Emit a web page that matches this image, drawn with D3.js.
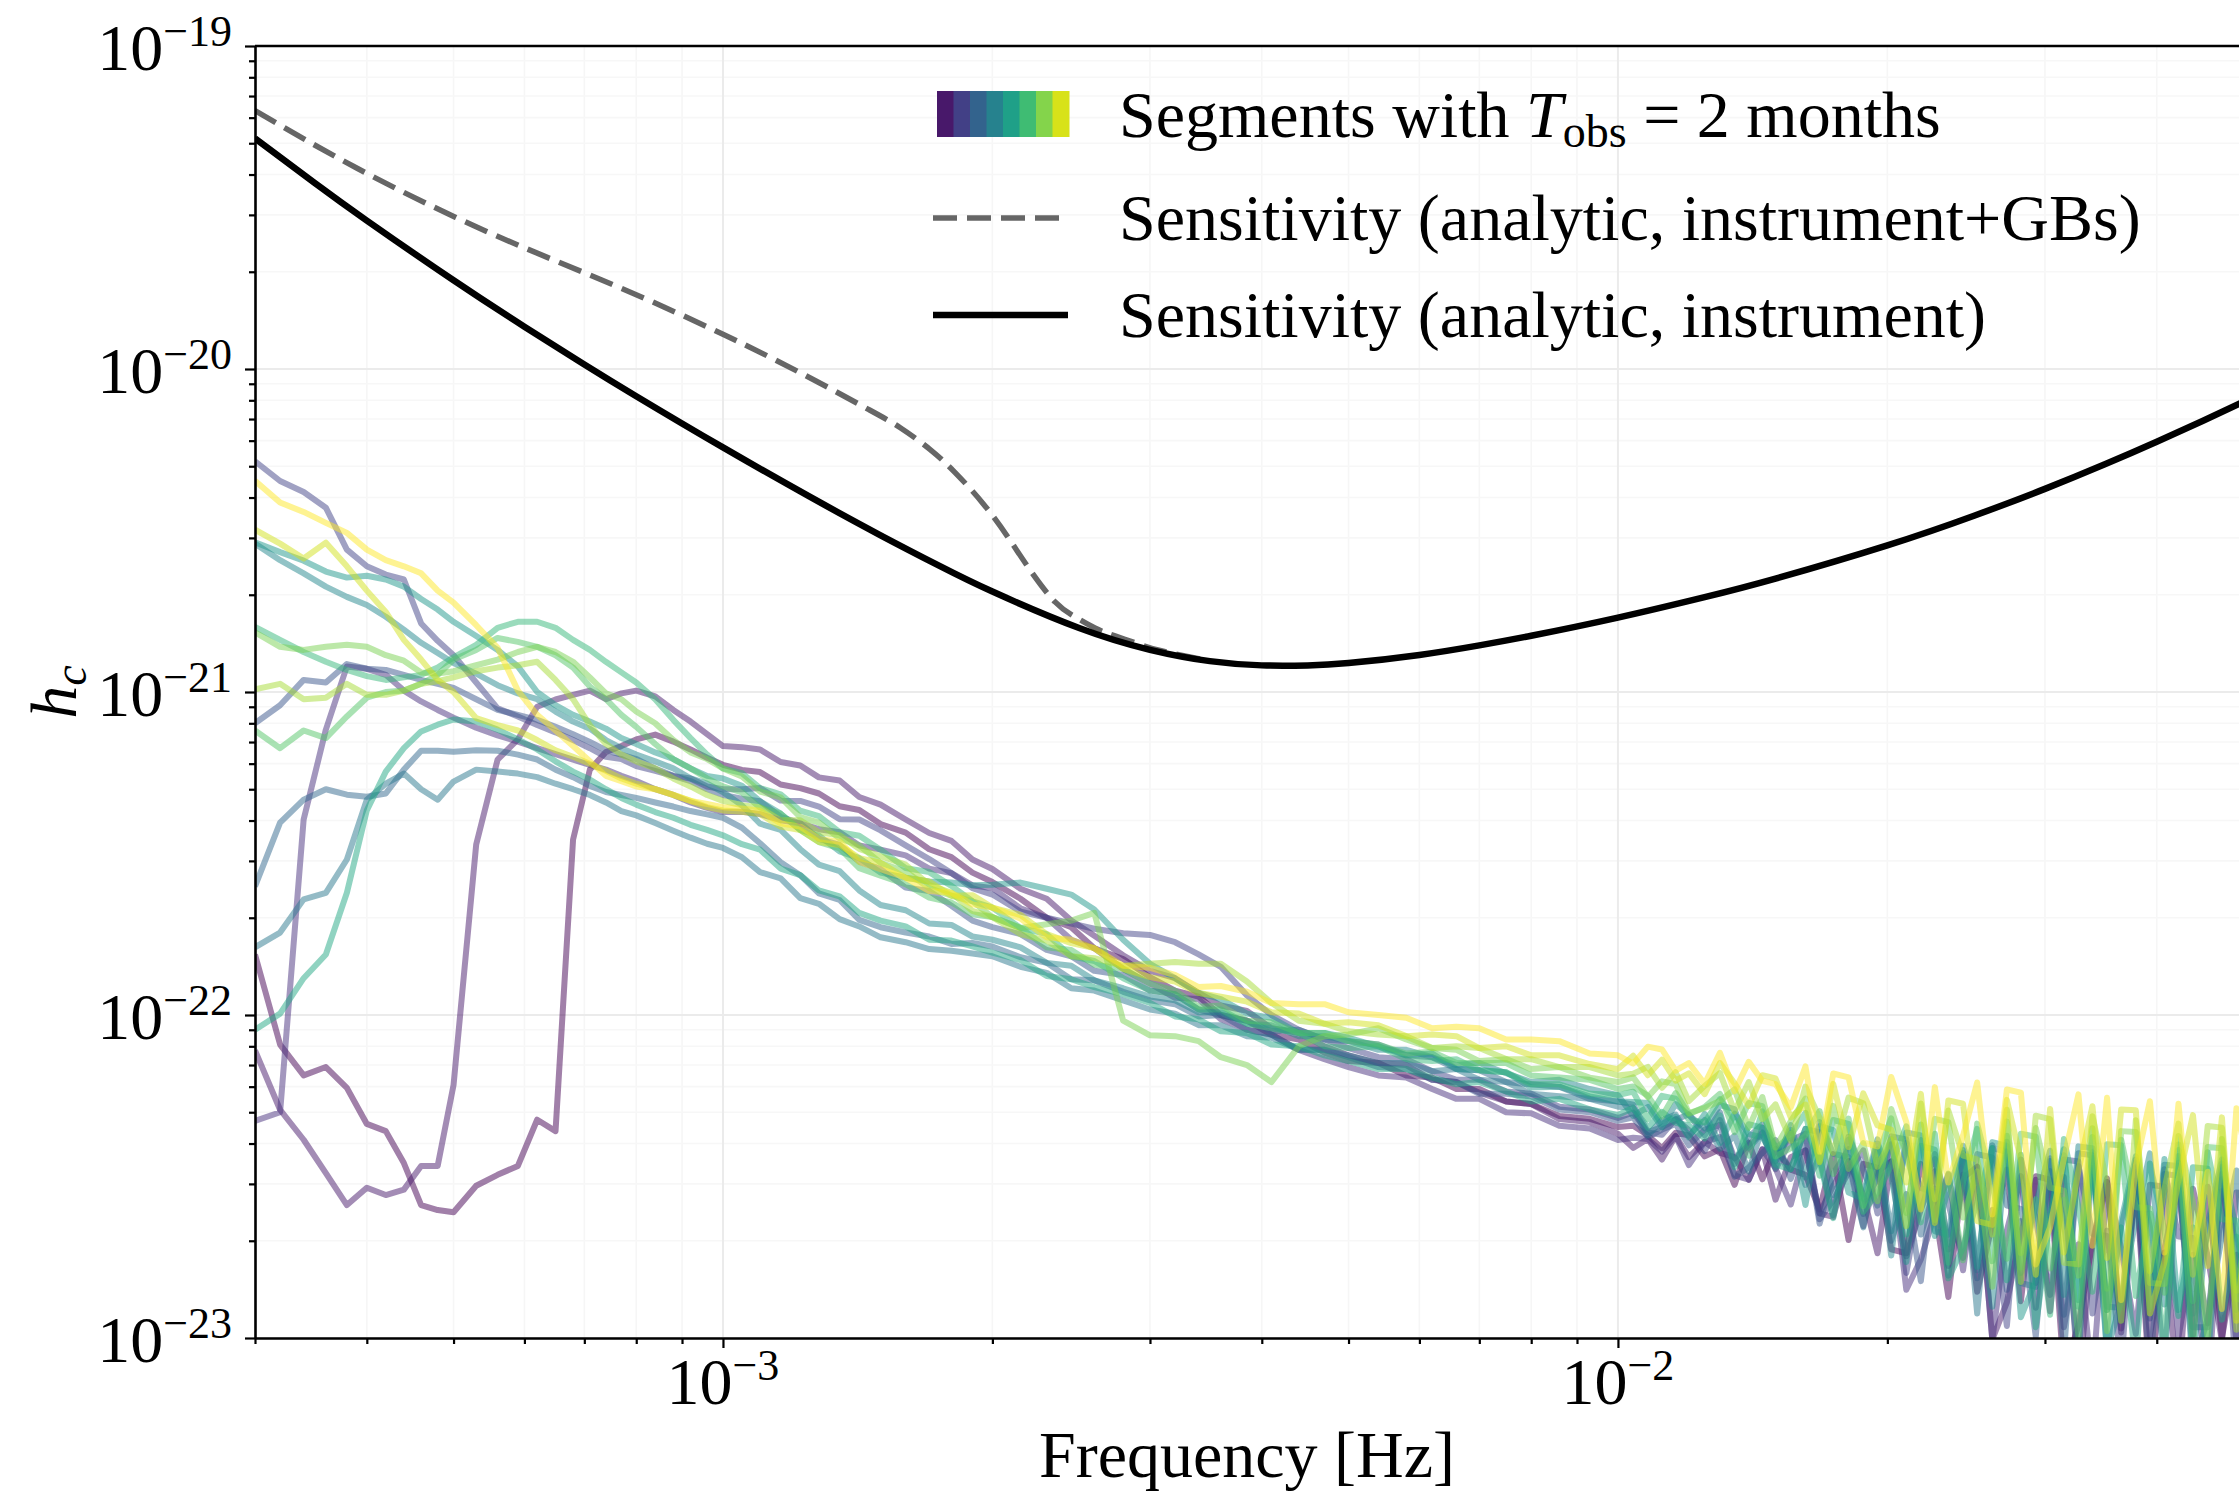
<!DOCTYPE html>
<html>
<head>
<meta charset="utf-8">
<script src="https://cdn.jsdelivr.net/npm/d3@7"></script>
<style>
  body { margin: 0; background: #fff; }
  svg { display: block; }
  svg text { font-family: "Liberation Serif", "DejaVu Serif", serif; fill: #000; }
</style>
</head>
<body>
<svg id="chart"></svg>
<script>
// ---- data ----
// frequency grid of the 2-month segments, in mHz
const segFreqLow = [0.30,0.32,0.34,0.36,0.38,0.40,0.42,0.44,0.46,0.48,0.50,0.53,0.56,0.59,0.62,0.65,0.68,0.71,0.74,0.77,0.80,0.84,0.88,0.92,0.96,1.00];
const segFreqMid = [1.05,1.1,1.16,1.22,1.28,1.35,1.42,1.5,1.6,1.7,1.8,1.9,2.0,2.15,2.3,2.45,2.6,2.8,3.0,3.2,3.4,3.6,3.85,4.1,4.4,4.7,5.0,5.4,5.8,6.2,6.6,7.0,7.5,8.0,8.6,9.3,10];
const segFreqHigh = [10.4,10.8,11.2,11.6,12.0,12.5,13.0,13.5,14.0,14.5,15.0,15.6,16.2,16.8,17.4,18.1,18.8,19.5,20.2,21.0,21.8,22.6,23.4,24.3,25.2,26.2,27.2,28.2,29.3,30.4,31.5,32.7,33.9,35.2,36.5,37.9,39.3,40.8,42.3,43.9,45.6,47.3,49.1,50.9];
const segFreq = segFreqLow.concat(segFreqMid, segFreqHigh);

// h_c of each segment, in units of 1e-23 (low / mid / high parts of the grid)
const seg0 = [15.4,8.1,6.5,6.9,5.95,4.6,4.37,3.48,2.58,2.49,2.45,2.96,3.2,3.41,4.74,4.37,34.9,57.5,65.2,68,71.3,73.8,70.2,66.4,62.6,59.5,
  57.4,56.5,51.7,50.4,48.5,44.3,43.1,39,36.7,32.6,30.8,27.6,25.8,22.9,20,18.7,16.1,14.9,13.1,11.9,11.4,10,9.6,8.7,8.4,7.65,7.2,7.1,6.5,6.4,5.9,5.9,5.4,5.3,4.87,4.77,4.5,
  4.54,4.24,3.87,4.32,4.24,3.65,3.84,2.98,4.03,3.1,3.85,3.32,3.2,2.5,3.71,2.01,3.46,3.37,1.88,1.83,3.46,2.5,1.34,3.21,1.39,2.26,3.32,1.3,3.17,3.09,0.77,1.1,1.98,3.12,1.07,3.07,0.72,1.89,2.99,1.02,2.94,1.0,1.81,0.68];
const seg1 = [7.77,5.09,4.11,3.24,2.58,2.92,2.77,2.88,3.41,3.41,6.07,33.7,61.8,71.3,90,94.8,98,101,95,99,101,97,88,81,74,68,
  67.5,66.4,60.7,59.2,54.4,53.2,47.3,44.8,40.3,36.6,34.6,30.3,28.3,24.6,22.9,19.6,17.6,15.3,13.7,13,11.7,10.7,10.3,9.1,8.8,8,7.5,7.1,7,6.3,6.2,5.75,5.4,5.3,4.76,4.66,4.29,
  3.88,4.13,3.57,4.22,3.63,4.05,3.74,3.63,3.09,3.84,2.68,3.63,3.81,2.43,2.37,3.53,2.77,1.83,3.52,1.79,2.5,3.28,1.67,3.13,3.39,0.99,1.29,2.11,3.09,1.21,3.15,0.74,1.93,3.04,1.04,2.99,1.02,1.84,0.7,2.9,1.79,0.98,2.82,2.8];
const seg2 = [4.7,5.0,40.3,76.5,120,118,113,101,93.5,88,83.3,77.5,73.4,70.2,67,64.2,61.8,59.5,57.5,55,53,50,48,45.5,43.8,42.5,
  42.6,41.9,40.1,39.2,37.6,36.8,33.5,32.5,31.2,28.4,27.5,25.2,24.7,21.4,20,17.1,16.1,13.9,12.5,11.3,11.2,9.7,9,8.7,7.8,7.3,6.9,6.5,6.4,5.9,5.5,5.5,5,4.96,4.54,4.45,4.1,
  4.17,4.13,3.78,4.22,3.43,4.05,4.19,3.19,3.09,3.84,3.35,2.59,3.81,2.43,2.96,3.53,2.22,3.28,3.52,1.41,1.75,2.43,3.21,1.62,3.39,0.99,2.15,3.17,1.24,3.02,1.08,1.95,0.73,3.04,1.89,1.03,2.98,2.94,1.01,1.81,0.68,2.85,0.97,2.8];
const seg3 = [518,450,416,372,276,245,231,223,163,144,130,107,89,84,79,75,71,67,63,62,59,57,55,54,51,50,
  50,50.4,46.1,46,44.2,40.4,40.3,37.3,33.5,30.4,27.5,24.7,23.6,20.9,20,19.2,18.5,17.9,17.7,16.8,15.4,14.1,11.5,10,9,8.4,7.9,7.4,7.3,6.7,6.3,6.3,5.8,5.7,5.2,5.1,4.8,
  4.99,4.33,4.26,4.76,4.4,3.79,4.73,3.6,3.96,4.33,3.33,4.09,4.29,2.33,2.67,3.26,3.81,2.43,3.98,1.59,2.82,3.71,1.88,3.54,1.53,2.49,1.09,3.57,2.32,1.36,3.57,3.52,1.19,2.15,0.81,3.38,1.15,3.33,2.06,2.04,1.11,3.22,0.76,3.15];
const seg4 = [80,91,109,107,122,118,117,113,109,106,103,95,88,85,82,78,74,70,66,64,62,58,55,53,50,48,
  46.7,45.9,41.1,39.2,35.1,33.6,29.8,28.3,24.8,24.2,21.8,19.6,18.7,17.8,15.9,15.2,13.7,13.3,11.9,11.6,10.4,10,9,8.7,7.8,7.8,7.4,6.9,6.8,6.3,6.2,5.7,5.7,5.6,5.1,5,4.7,
  4.82,4.19,4.42,4.6,3.95,4.42,4.57,3.16,3.37,3.74,4.1,3.11,4.15,2.26,3.23,3.84,2.42,3.57,2.0,2.79,1.5,3.58,2.59,1.77,3.71,3.62,1.41,2.3,1.01,3.29,1.18,3.41,2.1,2.07,1.13,3.26,0.77,3.22,3.18,1.08,1.08,3.1,1.92,0.72];
const seg5 = [25,39.4,46.4,50,48.1,47.4,48.5,57.5,65.8,65.8,65.3,66,65.8,64,61.8,57.5,54.5,51.2,49,48,47,45.5,44.2,42.8,41.8,40.8,
  38,34,29.7,27.1,23.8,22.7,19.7,18.7,18,17.5,16.6,16.7,16.3,15.1,14.5,12.9,12.8,11.8,11.1,10.8,9.9,10,9.6,8.9,9,8.4,8.3,8.1,7.5,7.4,6.8,6.75,6.2,6.1,6,5.5,5.4,
  5.28,4.34,4.5,4.74,4.93,4.24,5.0,3.46,4.19,4.58,3.52,4.32,2.98,3.63,2.4,4.2,3.3,2.57,4.21,4.12,2.09,2.9,1.56,3.74,1.62,3.95,2.57,2.51,1.48,3.6,0.89,3.73,3.68,1.25,1.24,3.57,2.21,0.83,3.49,1.19,2.14,3.39,1.16,3.33];
const seg6 = [16.2,18,22.8,23.9,30.3,46.4,52,55.9,50,46.4,52.8,57.5,56.7,55.9,54.5,52,50,48,45.5,42.8,41.5,39.3,37.2,35.4,33.9,32.9,
  30.8,27.7,26.5,23,22.1,19.8,18.8,17.4,16.8,16,15.8,15.5,15.2,14.1,13.5,12.1,11.9,11.1,10.4,10.1,9.3,9.3,8.6,8.5,7.8,7.8,7.5,7.1,7.1,6.7,6.8,6.3,6.2,5.7,5.6,5.5,5.2,
  5.16,4.24,4.73,4.92,4.23,4.73,3.85,4.23,3.28,4.48,3.91,3.33,4.44,4.33,2.77,3.37,2.2,3.83,2.14,4.02,2.91,2.84,1.95,3.66,1.19,3.87,3.77,1.48,1.44,3.53,2.3,0.87,3.6,1.22,2.2,3.49,1.19,3.44,3.41,0.8,1.15,2.07,3.3,1.12];
const seg7 = [288,256,233,212,197,186,171,156,142,132,123,114,105,99,95,87,81,77,71,67,64,61,58,54,52,49,
  44.6,39.1,37.4,32.6,29.2,27.9,24.3,21.9,21.1,19.2,19,17.5,17.1,16.2,14.5,14.2,12.8,12.1,11.4,11.1,10.2,10.2,9.4,9.3,8.6,8.6,8.3,7.8,7.8,7.4,7,7.1,6.6,6.2,6.3,5.9,5.65,
  4.87,5.19,4.49,5.3,4.9,4.46,5.26,5.11,3.88,4.31,3.37,4.56,3.14,4.66,3.72,3.63,2.78,4.12,1.8,4.33,4.24,2.14,2.09,3.94,2.84,1.25,4.05,1.59,2.59,3.8,1.36,3.92,3.87,0.91,1.3,2.35,3.73,1.27,3.66,0.86,2.25,3.57,1.22,3.52];
const seg8 = [291,271,255,236,226,229,223,212,194,180,165,149,135,120,100,91,85,81,77,72,69,65,62,58,55,54,
  51.2,45.9,42,37.4,35.9,32.1,30.6,27.6,26.6,25.9,25.7,25.2,25.3,25.7,24.6,23.6,21.2,17.1,14.4,13,11.7,11.2,10.1,9.8,8.8,8.8,8.5,8,7.5,7.6,6.8,6.75,6.65,5.96,6,5.6,5.4,
  5.38,5.34,4.59,4.85,4.18,4.94,4.01,4.95,4.28,4.18,3.6,4.41,2.58,4.53,4.4,2.82,2.7,4.0,3.18,1.72,4.1,2.07,2.9,3.82,1.66,4.04,3.93,1.16,1.51,2.45,3.84,1.31,3.76,0.88,2.3,3.65,1.24,3.58,1.22,2.2,0.83,3.47,2.15,1.17];
const seg9 = [9,10.1,13,15.4,23.9,43,56.7,67,75.5,79.2,82.2,81,76.5,71.3,66.4,61,56.7,53.6,50,47,44.8,42.5,40.8,38.8,37.4,36,
  33.8,32.5,28.4,27.1,24.3,23.3,20.7,19.6,18.8,17.1,17,16.3,15.6,14.8,13.2,12.9,12.2,11.6,10.9,9.9,9.7,8.9,8.8,8.1,8,7.5,7.2,6.8,6.8,6.4,6.1,6.2,5.8,5.4,5.5,5.1,4.9,
  5.16,4.48,5.01,4.64,4.55,4.15,4.89,3.38,4.59,4.48,3.44,3.33,4.44,3.55,2.35,4.11,2.58,3.14,4.12,2.09,3.93,3.83,1.53,1.9,2.64,3.87,1.51,3.69,1.08,2.35,3.68,1.25,3.6,1.22,2.2,0.83,3.47,2.15,1.17,3.38,3.34,1.14,2.06,0.78];
const seg10 = [159,145,133,124,117,112,109,111,113,119,128,140,158,165,165,158,145,135,124,115,107,95,82,72,64,58,
  56.1,50.4,48.2,42.9,41.3,36.8,35.9,32.5,28.5,27.7,25.1,22.5,21.5,18.6,17.8,15.2,14.7,13,11.9,11.6,10.4,10.4,9.4,9.1,8.8,8,7.9,8,7.3,7.2,7.3,6.75,6.65,6.1,6.1,5.7,5.65,
  5.79,4.76,5.62,5.51,4.74,4.65,5.49,4.74,3.67,5.03,3.86,4.23,4.98,3.18,4.73,4.6,2.46,2.82,3.42,4.52,2.28,4.29,1.71,3.04,4.44,1.73,4.23,1.65,2.69,1.18,4.13,2.55,1.39,3.98,3.95,1.35,2.43,0.92,3.82,1.3,3.76,2.33,2.31,1.25];
const seg11 = [76,67,76,72,84,96,100,101,106,113,126,135,147,143,138,130,119,104,95,85,78,69,62,58,54,51,
  48.9,43.9,42,37.4,34.3,32.8,28.5,27,25.4,23.1,22.3,20.5,20.1,18.6,16.2,15.9,14.3,13.9,12.5,11.9,10.6,10.7,9.6,9.5,8.8,8.8,8.3,8.1,7.6,7.7,7.1,7.1,7.1,6.5,6.4,6.3,5.9,
  6.01,5.62,4.85,5.73,4.93,5.19,5.7,4.34,5.34,5.22,3.65,3.87,4.24,5.04,3.22,4.78,2.56,3.66,4.79,2.44,4.58,2.32,3.23,1.74,4.61,3.0,1.76,4.29,4.2,1.64,2.68,1.01,4.19,1.42,4.11,2.54,2.52,1.38,3.97,0.93,3.9,3.87,1.32,1.3];
const seg12 = [153,138,135,138,140,138,130,125,115,114,116,121,126,133,138,133,124,111,99,95,87,80,71,65,62,58,
  54.8,49.2,47.2,41,39.4,35.2,33.5,29.6,27.8,24.7,23.4,22.5,20.1,18.6,19.1,19.6,20.7,9.6,8.65,8.6,8.3,7.4,7,6.2,8,8.6,8.7,9.1,8.4,7.9,7.8,7.2,7.3,6.8,6.9,6.4,6.2,
  6.41,5.57,6.23,6.11,4.97,5.15,5.42,5.88,4.48,5.57,3.89,4.69,5.51,3.53,5.23,3.34,4.01,2.65,5.12,3.71,2.53,4.77,4.66,2.36,3.28,1.44,4.68,1.83,4.47,2.92,2.86,1.56,4.46,1.05,4.37,4.34,1.48,1.47,4.22,2.62,0.99,4.13,1.4,2.53];
const seg13 = [102,106,95,96,106,98,98,101,106,108,111,116,119,121,124,109,95,79,69,64,61,58,54,51,48,46,
  44.6,43.9,40.1,40.1,36.8,36,32.7,31,29.2,25.3,23.9,21,20.1,17.8,17,15.2,15,14.2,14.4,14.6,14.4,14.4,12.7,10.9,9.6,9.4,8.9,8.7,8.6,7.9,8,7.9,7.3,7.3,6.9,6.9,6.5,
  6.58,6.91,5.95,6.65,5.41,6.03,6.61,5.03,6.2,4.76,5.29,4.08,6.0,4.8,3.74,5.55,5.33,3.39,4.12,2.22,5.32,2.69,5.06,3.67,3.57,2.09,5.09,1.49,4.88,4.76,1.71,1.69,4.86,3.0,1.13,4.72,1.61,2.9,4.61,1.57,4.53,4.48,1.06,1.52];
const seg14 = [318,288,259,290,245,206,177,145,126,109,100,83,79,76,71,66,63,60,57,54,52,50,48,46,44,43,
  42.6,41.9,38.3,37.4,34.3,33.6,30.6,29.6,26.6,25.9,23.4,23.5,21.5,20.4,17.8,16.7,16.1,13.9,13.1,12.7,11.7,11.4,11,10.2,10.1,9.4,9.5,9.3,8.6,8.7,8.6,7.9,8,7.5,7.5,7.05,6.8,
  7.48,6.51,7.27,6.26,6.6,5.69,7.1,6.14,5.23,6.51,6.36,4.82,5.28,3.5,6.12,3.9,5.72,4.55,4.42,3.03,5.7,2.27,5.44,5.31,2.3,2.24,5.46,3.56,1.57,5.12,1.84,3.3,5.22,1.77,5.1,5.07,1.19,1.72,3.09,4.9,1.67,4.82,1.13,2.96];
const seg15 = [451,386,361,334,311,276,256,245,233,206,189,161,137,101,85,76,68,61,55,53,51,50,48,46,45,44,
  43.6,42.9,39.2,38.3,35.1,34.4,29.8,28.3,26.6,24.2,23.9,22,21.5,19.9,17.4,17.1,16.1,14.2,14,13.3,12.2,12.3,11.8,10.9,10.8,10.8,10.2,10,9.8,9.1,9.2,9.1,8.4,8.4,8.3,7.6,7.5,
  7.07,7.98,7.82,6.73,7.1,6.12,7.64,5.81,7.16,6.25,6.11,5.18,6.93,3.77,6.59,6.41,4.03,3.92,6.43,4.66,2.5,5.98,3.03,4.23,6.18,2.41,5.88,5.75,1.69,2.2,3.59,5.68,1.93,5.54,1.31,3.41,5.41,1.84,5.31,1.81,3.27,1.23,5.14,3.18];
const segments = [seg0, seg1, seg2, seg3, seg4, seg5, seg6, seg7, seg8, seg9, seg10, seg11, seg12, seg13, seg14, seg15];

// analytic sensitivity curves (Hz, strain)
const sensFreq = [3e-4,3.5e-4,4e-4,5e-4,6e-4,7e-4,8e-4,1e-3,1.25e-3,1.5e-3,1.75e-3,2e-3,2.5e-3,3e-3,3.5e-3,4e-3,4.5e-3,5e-3,6e-3,7e-3,8e-3,1e-2,1.25e-2,1.5e-2,2e-2,2.5e-2,3e-2,3.5e-2,4e-2,4.5e-2,5e-2];
const sensInstr = [5.174e-20,3.762e-20,2.881e-20,1.882e-20,1.352e-20,1.033e-20,8.238e-21,5.717e-21,4.024e-21,3.056e-21,2.448e-21,2.046e-21,1.578e-21,1.351e-21,1.246e-21,1.209e-21,1.209e-21,1.229e-21,1.302e-21,1.394e-21,1.493e-21,1.699e-21,1.966e-21,2.244e-21,2.844e-21,3.513e-21,4.254e-21,5.068e-21,5.953e-21,6.906e-21,7.921e-21];
const sensGBFreq = [3.0e-4,3.906e-4,5.42e-4,7.53e-4,1.0e-3,1.232e-3,1.452e-3,1.578e-3,1.703e-3,1.816e-3,1.953e-3,2.083e-3,2.204e-3,2.35e-3,2.474e-3,2.604e-3,2.742e-3,2.924e-3,3.08e-3,3.5e-3];
const sensGB = [6.312e-20,4.175e-20,2.680e-20,1.825e-20,1.281e-20,9.602e-21,7.514e-21,6.580e-21,5.641e-21,4.788e-21,3.829e-21,3.008e-21,2.385e-21,1.900e-21,1.708e-21,1.578e-21,1.491e-21,1.403e-21,1.344e-21,1.246e-21];

const xMajor = [1e-3, 1e-2];
const yMajor = [1e-23, 1e-22, 1e-21, 1e-20, 1e-19];

const legendLabels = ["Sensitivity (analytic, instrument+GBs)", "Sensitivity (analytic, instrument)"];

// ---- drawing ----
const W = 2239, H = 1497;
const plot = { left: 255, right: 2243.5, top: 46, bottom: 1338 };

const svg = d3.select("#chart").attr("width", W).attr("height", H);

const x = d3.scaleLog().domain([3e-4, 5e-2]).range([plot.left, plot.right]);
const y = d3.scaleLog().domain([1e-23, 1e-19]).range([plot.bottom, plot.top]);

svg.append("defs").append("clipPath").attr("id", "clip")
  .append("rect")
  .attr("x", plot.left).attr("y", plot.top)
  .attr("width", plot.right - plot.left).attr("height", plot.bottom - plot.top);

const isMajor = v => Math.abs(Math.log10(v) - Math.round(Math.log10(v))) < 1e-6;
const xMinor = x.ticks().filter(v => !isMajor(v));
const yMinor = y.ticks().filter(v => !isMajor(v));

// grid
const grid = svg.append("g");
grid.selectAll(".gxm").data(xMinor).enter().append("line")
  .attr("x1", d => x(d)).attr("x2", d => x(d))
  .attr("y1", plot.top).attr("y2", plot.bottom)
  .attr("stroke", "#f6f6f6").attr("stroke-width", 1.6);
grid.selectAll(".gym").data(yMinor).enter().append("line")
  .attr("x1", plot.left).attr("x2", plot.right)
  .attr("y1", d => y(d)).attr("y2", d => y(d))
  .attr("stroke", "#f7f7f7").attr("stroke-width", 1.6);
grid.selectAll(".gx").data(xMajor).enter().append("line")
  .attr("x1", d => x(d)).attr("x2", d => x(d))
  .attr("y1", plot.top).attr("y2", plot.bottom)
  .attr("stroke", "#ebebeb").attr("stroke-width", 2);
grid.selectAll(".gy").data(yMajor).enter().append("line")
  .attr("x1", plot.left).attr("x2", plot.right)
  .attr("y1", d => y(d)).attr("y2", d => y(d))
  .attr("stroke", "#ebebeb").attr("stroke-width", 2);

// segments
const data = svg.append("g").attr("clip-path", "url(#clip)");
const line = d3.line().x(d => x(d[0])).y(d => y(d[1]));
segments.forEach((vals, i) => {
  const pts = segFreq.map((f, k) => [f * 1e-3, vals[k] * 1e-23]);
  data.append("path")
    .attr("d", line(pts))
    .attr("fill", "none")
    .attr("stroke", d3.interpolateViridis(i / (segments.length - 1)))
    .attr("stroke-opacity", 0.5)
    .attr("stroke-width", 6)
    .attr("stroke-linejoin", "round");
});

// sensitivity curves
const smooth = d3.line().x(d => x(d[0])).y(d => y(d[1])).curve(d3.curveNatural);
data.append("path")
  .attr("d", smooth(sensGBFreq.map((f, i) => [f, sensGB[i]])))
  .attr("fill", "none").attr("stroke", "#666").attr("stroke-width", 5.5)
  .attr("stroke-dasharray", "24,10");
data.append("path")
  .attr("d", smooth(sensFreq.map((f, i) => [f, sensInstr[i]])))
  .attr("fill", "none").attr("stroke", "#000").attr("stroke-width", 6.5);

// axes
const ax = svg.append("g").attr("transform", `translate(0,${plot.bottom})`);
ax.call(d3.axisBottom(x).tickValues(xMajor).tickSize(10).tickSizeOuter(0).tickFormat(""));
ax.append("g").call(d3.axisBottom(x).tickValues(xMinor).tickSize(6).tickSizeOuter(0).tickFormat(""))
  .select(".domain").remove();
const ay = svg.append("g").attr("transform", `translate(${plot.left},0)`);
ay.call(d3.axisLeft(y).tickValues(yMajor).tickSize(10).tickSizeOuter(0).tickFormat(""));
ay.append("g").call(d3.axisLeft(y).tickValues(yMinor).tickSize(6).tickSizeOuter(0).tickFormat(""))
  .select(".domain").remove();
svg.selectAll(".domain").attr("stroke-width", 2.6);
svg.selectAll(".tick line").attr("stroke-width", 2.2);
svg.append("line")
  .attr("x1", plot.left).attr("x2", plot.right)
  .attr("y1", plot.top).attr("y2", plot.top)
  .attr("stroke", "#000").attr("stroke-width", 2.6);

function powLabel(t, v) {
  const e = Math.round(Math.log10(v));
  t.append("tspan").text("10");
  t.append("tspan").attr("font-size", 44).attr("dy", -24).text("\u2212" + Math.abs(e));
}
xMajor.forEach(v => {
  const t = svg.append("text").attr("x", x(v)).attr("y", 1404)
    .attr("font-size", 66).attr("text-anchor", "middle");
  powLabel(t, v);
});
yMajor.forEach(v => {
  const t = svg.append("text").attr("x", 232).attr("y", y(v) + 24)
    .attr("font-size", 66).attr("text-anchor", "end");
  powLabel(t, v);
});

svg.append("text").attr("x", (plot.left + W) / 2).attr("y", 1477)
  .attr("font-size", 66).attr("text-anchor", "middle").text("Frequency [Hz]");

const yl = svg.append("text").attr("transform", "translate(76,692) rotate(-90)")
  .attr("font-size", 66).attr("text-anchor", "middle");
yl.append("tspan").attr("font-style", "italic").text("h");
yl.append("tspan").attr("font-style", "italic").attr("font-size", 46).attr("dy", 10).text("c");

// legend
const lg = svg.append("g");
const nStripe = 8, lx = 937, lw = 132;
d3.range(nStripe).forEach(i => {
  lg.append("rect")
    .attr("x", lx + i * lw / nStripe).attr("y", 91)
    .attr("width", lw / nStripe + 0.5).attr("height", 46)
    .attr("fill", d3.interpolateViridis((i + 0.5) / nStripe));
});
lg.append("line").attr("x1", 933).attr("x2", 1068).attr("y1", 218).attr("y2", 218)
  .attr("stroke", "#666").attr("stroke-width", 5.5).attr("stroke-dasharray", "24,10");
lg.append("line").attr("x1", 933).attr("x2", 1068).attr("y1", 315).attr("y2", 315)
  .attr("stroke", "#000").attr("stroke-width", 6.5);

const t1 = lg.append("text").attr("x", 1119).attr("y", 137).attr("font-size", 66);
t1.append("tspan").text("Segments with ");
t1.append("tspan").attr("font-style", "italic").text("T");
t1.append("tspan").attr("font-size", 46).attr("dy", 10).text("obs");
t1.append("tspan").attr("dy", -10).text(" = 2 months");
lg.append("text").attr("x", 1119).attr("y", 240).attr("font-size", 66).text(legendLabels[0]);
lg.append("text").attr("x", 1119).attr("y", 337).attr("font-size", 66).text(legendLabels[1]);
</script>
</body>
</html>
